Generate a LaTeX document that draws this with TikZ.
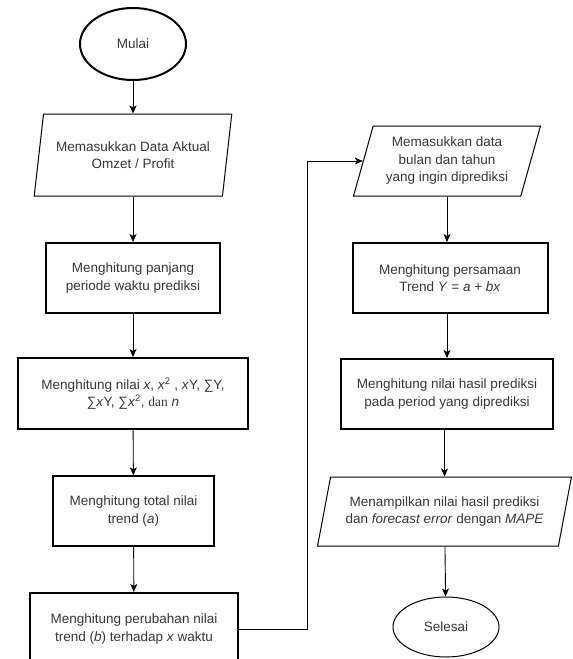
\documentclass[tikz,border=0pt]{standalone}
\usepackage{fontspec}
\setmainfont{Liberation Sans}
\newfontfamily\serifdan{Liberation Serif}
\usetikzlibrary{shapes.geometric,arrows.meta}
\definecolor{teks}{RGB}{55,55,55}
\begin{document}
\begin{tikzpicture}[x=1pt,y=-1pt,
    font=\fontsize{13.5}{17.5}\selectfont,
    every node/.append style={text=teks,align=center},
    terminal/.style={ellipse,draw,minimum width=106pt,minimum height=#1,inner sep=0pt},
    proses/.style={rectangle,draw,line width=2pt,minimum height=70pt,inner sep=0pt},
    masukan/.style={trapezium,draw,trapezium stretches=true,inner sep=0pt},
    panah/.style={-{Stealth[length=8pt,width=7pt,inset=2pt]},line width=0.9pt}]
  \clip (0,0) rectangle (573,659);
  \useasboundingbox (0,0) rectangle (573,659);
  % kolom kiri
  \node[terminal=72pt,line width=2pt] (mulai) at (133,44) {Mulai};
  \node[masukan,trapezium left angle=73.7,trapezium right angle=106.3,
        minimum width=198pt,minimum height=82pt,line width=1pt] (data) at (133,155)
        {Memasukkan Data Aktual\\Omzet / Profit};
  \node[proses,minimum width=174pt] (periode) at (133,278)
        {Menghitung panjang\\periode waktu prediksi};
  \node[proses,minimum width=230pt,minimum height=71pt] (nilai) at (133,393.5)
        {Menghitung nilai \textit{x}, \textit{x}\textsuperscript{2} , \textit{x}Y, ∑Y,\\
         ∑\textit{x}Y, ∑\textit{x}\textsuperscript{2}, {\serifdan dan} \textit{n}};
  \node[proses,minimum width=161pt,line width=1.3pt] (total) at (133.5,511)
        {Menghitung total nilai\\trend (\textit{a})};
  \node[proses,minimum width=208pt,minimum height=72pt] (ubah) at (134,629)
        {Menghitung perubahan nilai\\trend (\textit{b}) terhadap \textit{x} waktu};
  % kolom kanan
  \node[masukan,trapezium left angle=71.1,trapezium right angle=108.9,
        minimum width=187pt,minimum height=70pt,line width=1pt] (bulan) at (447,161)
        {Memasukkan data\\bulan dan tahun\\yang ingin diprediksi};
  \node[proses,minimum width=195pt] (trend) at (450,278)
        {Menghitung persamaan\\Trend \textit{Y} = \textit{a} + \textit{bx}};
  \node[proses,minimum width=212pt] (hasil) at (447,394)
        {Menghitung nilai hasil prediksi\\pada period yang diprediksi};
  \node[masukan,trapezium left angle=69.4,trapezium right angle=110.6,
        minimum width=254pt,minimum height=69pt,line width=1pt] (tampil) at (444.5,511.5)
        {Menampilkan nilai hasil prediksi\\dan \textit{forecast error} dengan \textit{MAPE}};
  \node[terminal=60pt,line width=1pt] (selesai) at (446,627) {Selesai};
  \coordinate (belok) at (307,629);
  % panah
  \draw[panah] (mulai) -- (data);
  \draw[panah] (data) -- (periode);
  \draw[panah] (periode) -- (nilai);
  \draw[panah] (nilai) -- (total);
  \draw[panah] (total) -- (ubah);
  \draw[panah] (ubah) -- (belok) |- (bulan);
  \draw[panah] (bulan.south -| hasil) -- (trend.north -| hasil);
  \draw[panah] (trend.south -| hasil) -- (hasil);
  \draw[panah] (hasil.south -| tampil) -- (tampil);
  \draw[panah] (tampil) -- (selesai);
\end{tikzpicture}
\end{document}
